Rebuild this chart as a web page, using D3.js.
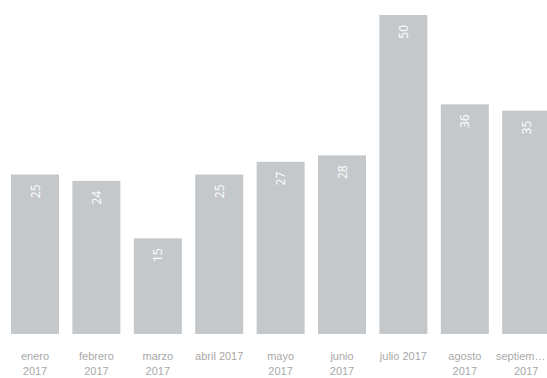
<!DOCTYPE html>
<html>
<head>
<meta charset="utf-8">
<script src="https://cdn.jsdelivr.net/npm/d3@7"></script>
<style>
  html, body { margin: 0; padding: 0; background: #ffffff; overflow: hidden; }
  svg { display: block; font-family: "Segoe UI", "Open Sans", "Noto Sans", sans-serif; }
</style>
</head>
<body>
<svg id="chart" width="547" height="378"></svg>
<script>
const categories = ["enero 2017", "febrero 2017", "marzo 2017", "abril 2017", "mayo 2017", "junio 2017", "julio 2017", "agosto 2017", "septiembre 2017"];
const values = [25, 24, 15, 25, 27, 28, 50, 36, 35];
const tickLabels = [
  ["enero", "2017"], ["febrero", "2017"], ["marzo", "2017"], ["abril 2017"],
  ["mayo", "2017"], ["junio", "2017"], ["julio 2017"], ["agosto", "2017"], ["septiem…", "2017"]
];
const yDomain = [0, 50];

const W = 547;
const svg = d3.select("#chart");

const x = d3.scaleBand()
  .domain(categories)
  .range([4.3, 4.3 + 9 * 61.4])
  .paddingInner(0.218)
  .paddingOuter(0.109);

const y = d3.scaleLinear().domain(yDomain).range([334, 15]);

svg.append("g").selectAll("rect")
  .data(values)
  .join("rect")
  .attr("x", (d, i) => x(categories[i]))
  .attr("y", d => y(d))
  .attr("width", x.bandwidth())
  .attr("height", d => y(0) - y(d))
  .attr("fill", "#c5c8cb");

svg.append("g").selectAll("text")
  .data(values)
  .join("text")
  .attr("transform", (d, i) => `translate(${x(categories[i]) + x.bandwidth() / 2 + 4.5},${y(d) + 10}) rotate(-90)`)
  .attr("text-anchor", "end")
  .attr("fill", "#ffffff")
  .attr("font-size", 12)
  .text(d => d);

const axis = svg.append("g")
  .attr("transform", `translate(0,${y(0)})`)
  .call(d3.axisBottom(x).tickSize(0).tickFormat(""));
axis.select(".domain").remove();

axis.selectAll(".tick").each(function(d, i) {
  const tickX = x(d) + x.bandwidth() / 2;
  tickLabels[i].forEach((line, j) => {
    const t = d3.select(this).append("text")
      .attr("fill", "#a8a8a8")
      .attr("font-size", 11)
      .attr("text-anchor", "middle")
      .attr("x", 0)
      .attr("y", 26 + j * 15)
      .text(line);
    // keep label inside the visible area
    const bb = t.node().getBBox();
    const right = tickX + bb.x + bb.width;
    if (right > W - 1.5) t.attr("x", -(right - (W - 1.5)));
  });
});
</script>
</body>
</html>
